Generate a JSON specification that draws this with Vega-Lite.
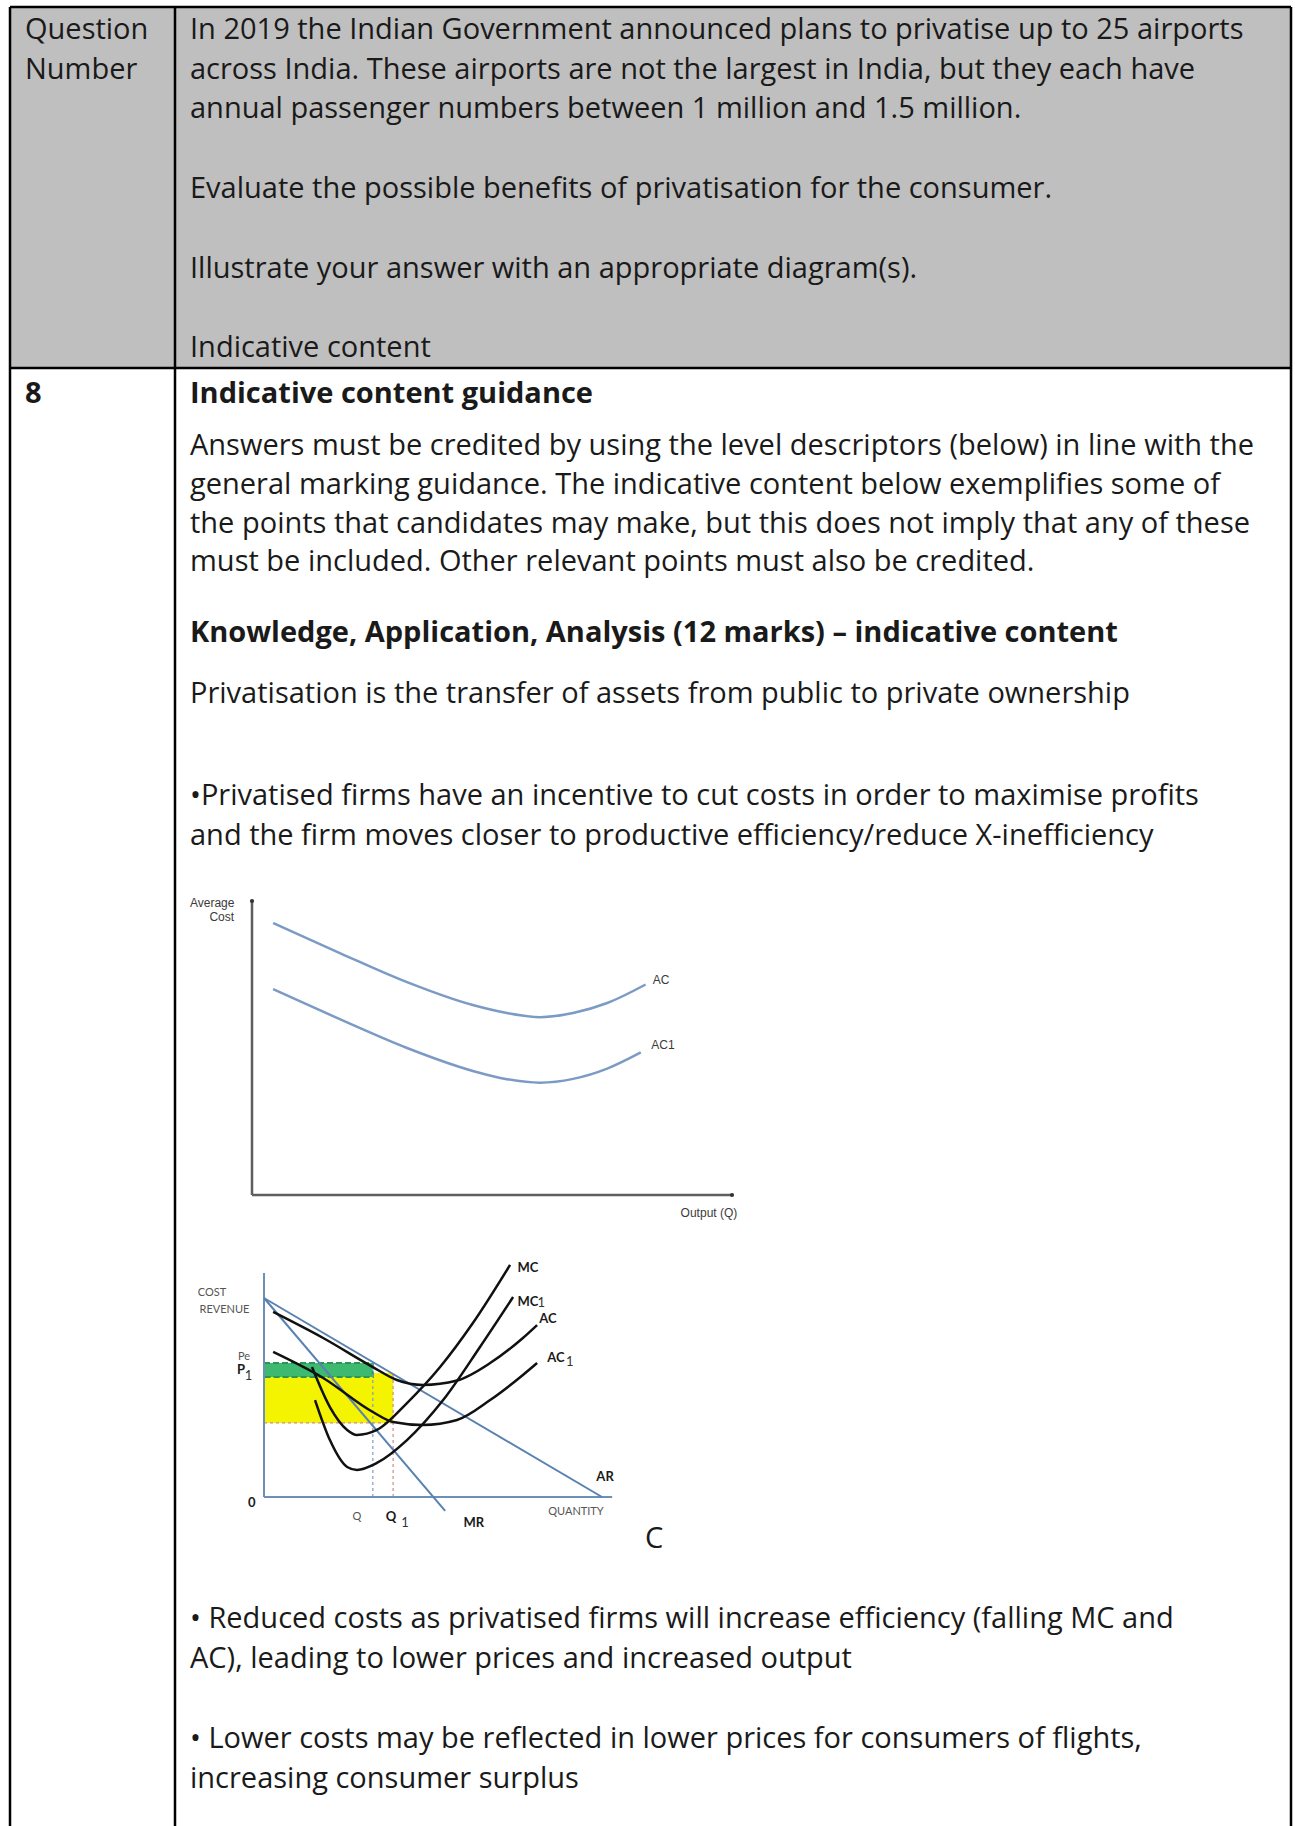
{
  "$schema": "https://vega.github.io/schema/vega-lite/v6.json",
  "description": "Mark scheme page: privatisation of Indian airports, with average cost and cost/revenue diagrams",
  "width": 1295,
  "height": 1826,
  "padding": 0,
  "autosize": {"type": "none"},
  "background": "white",
  "config": {"view": {"stroke": null}, "font": "Open Sans"},
  "datasets": {
    "headerFill": [{"px": 10, "py": 7, "px2": 1291, "py2": 368}],
    "borders": [
      {"px": 10, "py": 7, "px2": 1291, "py2": 7},
      {"px": 10, "py": 368, "px2": 1291, "py2": 368},
      {"px": 10, "py": 7, "px2": 10, "py2": 1826},
      {"px": 175, "py": 7, "px2": 175, "py2": 1826},
      {"px": 1291, "py": 7, "px2": 1291, "py2": 1826}
    ],
    "bodyText": [
      {"px": 25, "py": 39, "line": "Question"},
      {"px": 25, "py": 79, "line": "Number"},
      {"px": 190, "py": 39, "line": "In 2019 the Indian Government announced plans to privatise up to 25 airports"},
      {"px": 190, "py": 79, "line": "across India. These airports are not the largest in India, but they each have"},
      {"px": 190, "py": 118, "line": "annual passenger numbers between 1 million and 1.5 million."},
      {"px": 190, "py": 198, "line": "Evaluate the possible benefits of privatisation for the consumer."},
      {"px": 190, "py": 278, "line": "Illustrate your answer with an appropriate diagram(s)."},
      {"px": 190, "py": 357, "line": "Indicative content"},
      {"px": 190, "py": 455, "line": "Answers must be credited by using the level descriptors (below) in line with the"},
      {"px": 190, "py": 494, "line": "general marking guidance. The indicative content below exemplifies some of"},
      {"px": 190, "py": 533, "line": "the points that candidates may make, but this does not imply that any of these"},
      {"px": 190, "py": 571, "line": "must be included. Other relevant points must also be credited."},
      {"px": 190, "py": 703, "line": "Privatisation is the transfer of assets from public to private ownership"},
      {"px": 190, "py": 805, "line": "•Privatised firms have an incentive to cut costs in order to maximise profits"},
      {"px": 190, "py": 845, "line": "and the firm moves closer to productive efficiency/reduce X-inefficiency"},
      {"px": 645, "py": 1548, "line": "C"},
      {"px": 190, "py": 1628, "line": "• Reduced costs as privatised firms will increase efficiency (falling MC and"},
      {"px": 190, "py": 1668, "line": "AC), leading to lower prices and increased output"},
      {"px": 190, "py": 1748, "line": "• Lower costs may be reflected in lower prices for consumers of flights,"},
      {"px": 190, "py": 1788, "line": "increasing consumer surplus"}
    ],
    "boldText": [
      {"px": 25, "py": 403, "line": "8"},
      {"px": 190, "py": 403, "line": "Indicative content guidance"},
      {"px": 190, "py": 642, "line": "Knowledge, Application, Analysis (12 marks) – indicative content"}
    ],
    "d1Axes": [
      {"q": 0, "p": 0, "q2": 0, "p2": 100},
      {"q": 0, "p": 0, "q2": 100, "p2": 0}
    ],
    "d1Ends": [{"q": 0, "p": 100}, {"q": 100, "p": 0}],
    "d1Curves": [
      {"curve": "AC", "q": 4.4, "p": 92.5},
      {"curve": "AC", "q": 18.3, "p": 82.3},
      {"curve": "AC", "q": 32.3, "p": 72.4},
      {"curve": "AC", "q": 46, "p": 64.6},
      {"curve": "AC", "q": 53.1, "p": 61.9},
      {"curve": "AC", "q": 60, "p": 60.5},
      {"curve": "AC", "q": 66.9, "p": 61.9},
      {"curve": "AC", "q": 74, "p": 65.3},
      {"curve": "AC", "q": 82, "p": 71.6},
      {"curve": "AC1", "q": 4.4, "p": 70},
      {"curve": "AC1", "q": 18.3, "p": 59.8},
      {"curve": "AC1", "q": 32.3, "p": 50},
      {"curve": "AC1", "q": 46, "p": 42.2},
      {"curve": "AC1", "q": 53.1, "p": 39.4},
      {"curve": "AC1", "q": 60, "p": 38.2},
      {"curve": "AC1", "q": 66.9, "p": 39.5},
      {"curve": "AC1", "q": 74, "p": 43},
      {"curve": "AC1", "q": 81, "p": 48.5}
    ],
    "d1Labels": [
      {"label": "Average", "q": -8.3, "p": 99.3},
      {"label": "Cost", "q": -6.3, "p": 94.6},
      {"label": "AC", "q": 85.2, "p": 73.1},
      {"label": "AC1", "q": 85.6, "p": 51},
      {"label": "Output (Q)", "q": 95.2, "p": -6.1}
    ],
    "d2Profit": [{"q": 0, "p": 37.2, "q2": 38.2, "p2": 62.3}],
    "d2PriceFall": [{"q": 0, "p": 60.3, "q2": 32.2, "p2": 67.3}],
    "d2DropQ": [{"q": 32.2, "p": 0, "q2": 32.2, "p2": 67.3}],
    "d2DropQ1": [
      {"q": 38.2, "p": 0, "q2": 38.2, "p2": 62.3},
      {"q": 0, "p": 37.2, "q2": 38.2, "p2": 37.2}
    ],
    "d2Axes": [
      {"q": 0, "p": 0, "q2": 0, "p2": 112.6},
      {"q": 0, "p": 0, "q2": 103, "p2": 0}
    ],
    "d2Demand": [
      {"q": 0, "p": 100, "q2": 100, "p2": 0},
      {"q": 0, "p": 100, "q2": 53.6, "p2": -7}
    ],
    "d2Curves": [
      {"curve": "AC", "q": 2.7, "p": 93},
      {"curve": "AC", "q": 17.5, "p": 79.9},
      {"curve": "AC", "q": 32.2, "p": 65.3},
      {"curve": "AC", "q": 39.3, "p": 58.8},
      {"curve": "AC", "q": 47, "p": 56.3},
      {"curve": "AC", "q": 57.1, "p": 58.5},
      {"curve": "AC", "q": 66.9, "p": 67.3},
      {"curve": "AC", "q": 76.6, "p": 79.9},
      {"curve": "AC", "q": 80.8, "p": 86.4},
      {"curve": "AC1", "q": 2.7, "p": 72.9},
      {"curve": "AC1", "q": 17.5, "p": 59.8},
      {"curve": "AC1", "q": 32.2, "p": 42.7},
      {"curve": "AC1", "q": 38.2, "p": 37.7},
      {"curve": "AC1", "q": 47, "p": 36.2},
      {"curve": "AC1", "q": 57.1, "p": 38.7},
      {"curve": "AC1", "q": 66.9, "p": 48.7},
      {"curve": "AC1", "q": 76.6, "p": 61.3},
      {"curve": "AC1", "q": 80.8, "p": 67.3},
      {"curve": "MC", "q": 14.2, "p": 65.3},
      {"curve": "MC", "q": 19.5, "p": 45.2},
      {"curve": "MC", "q": 24.6, "p": 33.7},
      {"curve": "MC", "q": 27.5, "p": 31.2},
      {"curve": "MC", "q": 33.4, "p": 33.7},
      {"curve": "MC", "q": 42.3, "p": 47.2},
      {"curve": "MC", "q": 52.1, "p": 65.3},
      {"curve": "MC", "q": 61.8, "p": 87.4},
      {"curve": "MC", "q": 72.8, "p": 116.6},
      {"curve": "MC1", "q": 15.1, "p": 48.7},
      {"curve": "MC1", "q": 19.5, "p": 28.6},
      {"curve": "MC1", "q": 24.6, "p": 15.1},
      {"curve": "MC1", "q": 27.5, "p": 13.6},
      {"curve": "MC1", "q": 33.4, "p": 17.1},
      {"curve": "MC1", "q": 42.3, "p": 28.6},
      {"curve": "MC1", "q": 53, "p": 48.7},
      {"curve": "MC1", "q": 63.9, "p": 75.4},
      {"curve": "MC1", "q": 73.7, "p": 100.5}
    ],
    "d2BoldLabels": [
      {"label": "MC", "q": 78.1, "p": 115},
      {"label": "MC", "q": 78.1, "p": 98},
      {"label": "AC", "q": 84, "p": 89.4},
      {"label": "AC", "q": 86.4, "p": 69.8},
      {"label": "AR", "q": 100.9, "p": 10},
      {"label": "MR", "q": 62.1, "p": -13},
      {"label": "Q", "q": 37.6, "p": -10},
      {"label": "0", "q": -3.6, "p": -3},
      {"label": "P", "q": -6.8, "p": 63.6}
    ],
    "d2Subscripts": [
      {"label": "1", "q": 82, "p": 97.5},
      {"label": "1", "q": 90.5, "p": 67.8},
      {"label": "1", "q": 41.7, "p": -13},
      {"label": "1", "q": -4.6, "p": 60.6}
    ],
    "d2SmallLabels": [
      {"label": "COST", "q": -15.4, "p": 102.5},
      {"label": "REVENUE", "q": -11.7, "p": 94},
      {"label": "QUANTITY", "q": 92.3, "p": -7.5},
      {"label": "Pe", "q": -5.9, "p": 70.2},
      {"label": "Q", "q": 27.5, "p": -10}
    ]
  },
  "layer": [
    {
      "encoding": {
        "x": {"field": "px", "type": "quantitative", "scale": {"domain": [0, 1295], "range": [0, 1295], "nice": false, "zero": false}, "axis": null},
        "y": {"field": "py", "type": "quantitative", "scale": {"domain": [0, 1826], "range": [0, 1826], "nice": false, "zero": false}, "axis": null}
      },
      "layer": [
        {
          "data": {"name": "headerFill"},
          "mark": {"type": "rect", "color": "#bfbfbf"},
          "encoding": {"x2": {"field": "px2"}, "y2": {"field": "py2"}}
        },
        {
          "data": {"name": "borders"},
          "mark": {"type": "rule", "color": "#000000", "strokeWidth": 2.5},
          "encoding": {"x2": {"field": "px2"}, "y2": {"field": "py2"}}
        },
        {
          "data": {"name": "bodyText"},
          "mark": {"type": "text", "align": "left", "baseline": "alphabetic", "font": "Open Sans", "fontSize": 29, "color": "#1a1a1a"},
          "encoding": {"text": {"field": "line"}}
        },
        {
          "data": {"name": "boldText"},
          "mark": {"type": "text", "align": "left", "baseline": "alphabetic", "font": "Open Sans", "fontSize": 29, "fontWeight": "bold", "color": "#1a1a1a"},
          "encoding": {"text": {"field": "line"}}
        }
      ]
    },
    {
      "encoding": {
        "x": {"field": "q", "type": "quantitative", "scale": {"domain": [0, 100], "range": [252, 732], "nice": false, "zero": false}, "axis": null},
        "y": {"field": "p", "type": "quantitative", "scale": {"domain": [0, 100], "range": [1195, 901], "nice": false, "zero": false}, "axis": null}
      },
      "layer": [
        {
          "data": {"name": "d1Axes"},
          "mark": {"type": "rule", "color": "#5e5e5e", "strokeWidth": 2.5},
          "encoding": {"x2": {"field": "q2"}, "y2": {"field": "p2"}}
        },
        {
          "data": {"name": "d1Ends"},
          "mark": {"type": "point", "filled": true, "color": "#333333", "size": 18, "opacity": 1}
        },
        {
          "data": {"name": "d1Curves"},
          "mark": {"type": "line", "interpolate": "monotone", "color": "#7c9bc4", "strokeWidth": 2.5},
          "encoding": {"detail": {"field": "curve"}}
        },
        {
          "data": {"name": "d1Labels"},
          "mark": {"type": "text", "align": "center", "baseline": "middle", "font": "Liberation Sans", "fontSize": 12, "color": "#3a3a3a"},
          "encoding": {"text": {"field": "label"}}
        }
      ]
    },
    {
      "encoding": {
        "x": {"field": "q", "type": "quantitative", "scale": {"domain": [0, 100], "range": [264, 602], "nice": false, "zero": false}, "axis": null},
        "y": {"field": "p", "type": "quantitative", "scale": {"domain": [0, 100], "range": [1497, 1298], "nice": false, "zero": false}, "axis": null}
      },
      "layer": [
        {
          "data": {"name": "d2Profit"},
          "mark": {"type": "rect", "color": "#f4f400"},
          "encoding": {"x2": {"field": "q2"}, "y2": {"field": "p2"}}
        },
        {
          "data": {"name": "d2PriceFall"},
          "mark": {"type": "rect", "fill": "#3dba70", "stroke": "#2a9656", "strokeWidth": 2, "strokeDash": [6, 3]},
          "encoding": {"x2": {"field": "q2"}, "y2": {"field": "p2"}}
        },
        {
          "data": {"name": "d2DropQ"},
          "mark": {"type": "rule", "color": "#7d9dc2", "strokeWidth": 1.2, "strokeDash": [3, 3]},
          "encoding": {"x2": {"field": "q2"}, "y2": {"field": "p2"}}
        },
        {
          "data": {"name": "d2DropQ1"},
          "mark": {"type": "rule", "color": "#d08a8a", "strokeWidth": 1.2, "strokeDash": [3, 3]},
          "encoding": {"x2": {"field": "q2"}, "y2": {"field": "p2"}}
        },
        {
          "data": {"name": "d2Axes"},
          "mark": {"type": "rule", "color": "#6d90ba", "strokeWidth": 2},
          "encoding": {"x2": {"field": "q2"}, "y2": {"field": "p2"}}
        },
        {
          "data": {"name": "d2Demand"},
          "mark": {"type": "rule", "color": "#5a82b0", "strokeWidth": 2},
          "encoding": {"x2": {"field": "q2"}, "y2": {"field": "p2"}}
        },
        {
          "data": {"name": "d2Curves"},
          "mark": {"type": "line", "interpolate": "monotone", "color": "#111111", "strokeWidth": 2.5},
          "encoding": {"detail": {"field": "curve"}}
        },
        {
          "data": {"name": "d2BoldLabels"},
          "mark": {"type": "text", "align": "center", "baseline": "middle", "font": "Lato", "fontSize": 13, "fontWeight": "bold", "color": "#1a1a1a"},
          "encoding": {"text": {"field": "label"}}
        },
        {
          "data": {"name": "d2Subscripts"},
          "mark": {"type": "text", "align": "center", "baseline": "middle", "font": "Lato", "fontSize": 13, "color": "#333333"},
          "encoding": {"text": {"field": "label"}}
        },
        {
          "data": {"name": "d2SmallLabels"},
          "mark": {"type": "text", "align": "center", "baseline": "middle", "font": "Lato", "fontSize": 11, "color": "#555555"},
          "encoding": {"text": {"field": "label"}}
        }
      ]
    }
  ],
  "resolve": {"scale": {"x": "independent", "y": "independent"}}
}
